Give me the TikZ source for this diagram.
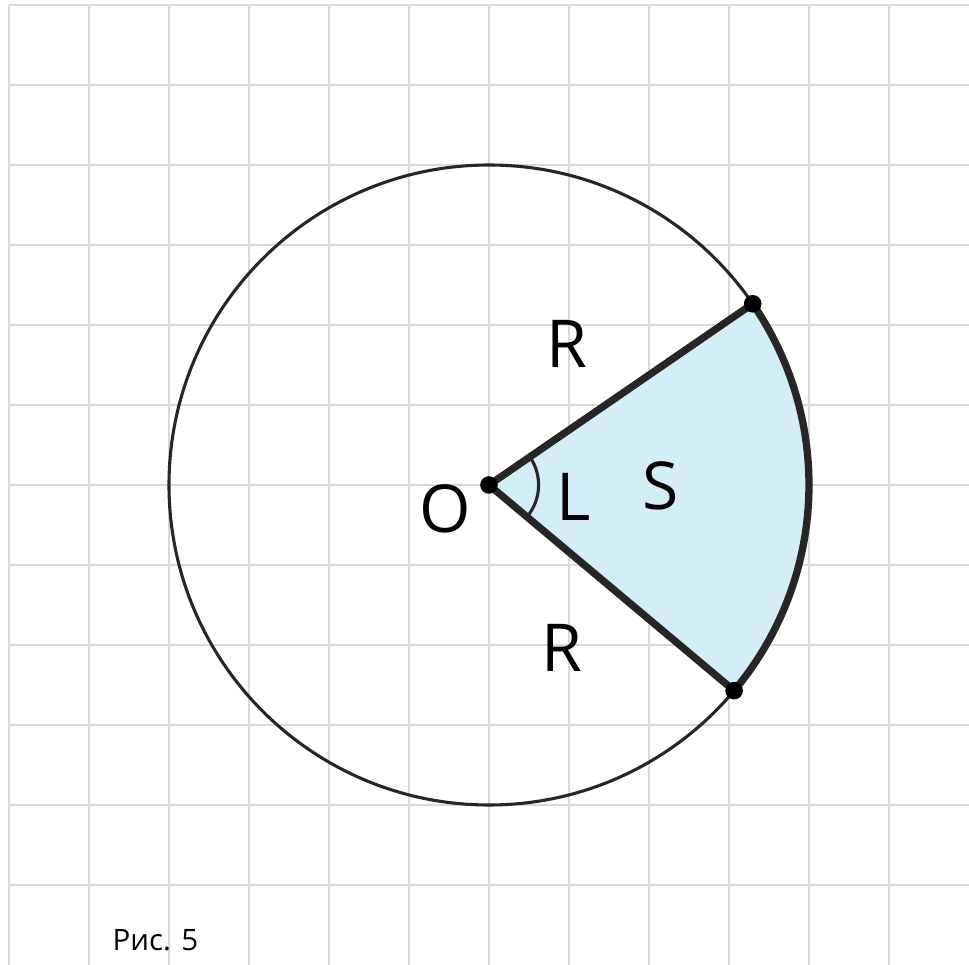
\documentclass[tikz,border=0pt]{standalone}
\usepackage{fontspec}
\setmainfont{Open Sans}
\usepackage{tikz}
\usetikzlibrary{positioning}

\definecolor{sectorblue}{HTML}{D4EEF8}
\definecolor{gridgray}{HTML}{D9D9D9}

\begin{document}
\begin{tikzpicture}[font=\fontsize{23.5}{28}\selectfont,
      gridline/.style={draw=gridgray,line width=0.7pt},
      rim/.style={draw=black!85,line width=1.1pt},
      bold/.style={draw=black!85,line width=2.6pt,line join=round},
      pt/.style={circle,fill=black,inner sep=0pt,minimum size=0.22cm}]
    \useasboundingbox (-6.1125,-6) rectangle (6,6.0625);
    \foreach \x in {-6,...,5} {
      \draw[gridline] (\x,-6) -- (\x,6);
    }
    \foreach \y in {-5,...,6} {
      \draw[gridline] (-6,\y) -- (6,\y);
    }
    \coordinate (O) at (0,0);
    \coordinate (A) at (34.5:4);
    \coordinate (B) at (-40:4);
    \fill[sectorblue] (O) -- (B) arc[start angle=-40,end angle=34.5,radius=4] -- cycle;
    \draw[rim] (O) circle[radius=4];
    \draw[bold] (A) -- (O) -- (B) arc[start angle=-40,end angle=34.5,radius=4];
    \draw[rim] (-40:0.62) arc[start angle=-40,end angle=34.5,radius=0.62];
    \node[pt] (dO) at (O) {};
    \node[pt] (dA) at (A) {};
    \node[pt] (dB) at (B) {};
    \node (lO) at (-0.55,-0.30) {O};
    \node (lL) at (1.06,-0.15) {L};
    \node (lS) at (2.15,-0.01) {S};
    \node (lR1) at (0.975,1.76) {R};
    \node (lR2) at (0.91,-2.04) {R};
    \node[font=\fontsize{10.5}{13}\selectfont] (cap) at (-4.17,-5.69) {Рис. 5};
  \end{tikzpicture}
\end{document}
